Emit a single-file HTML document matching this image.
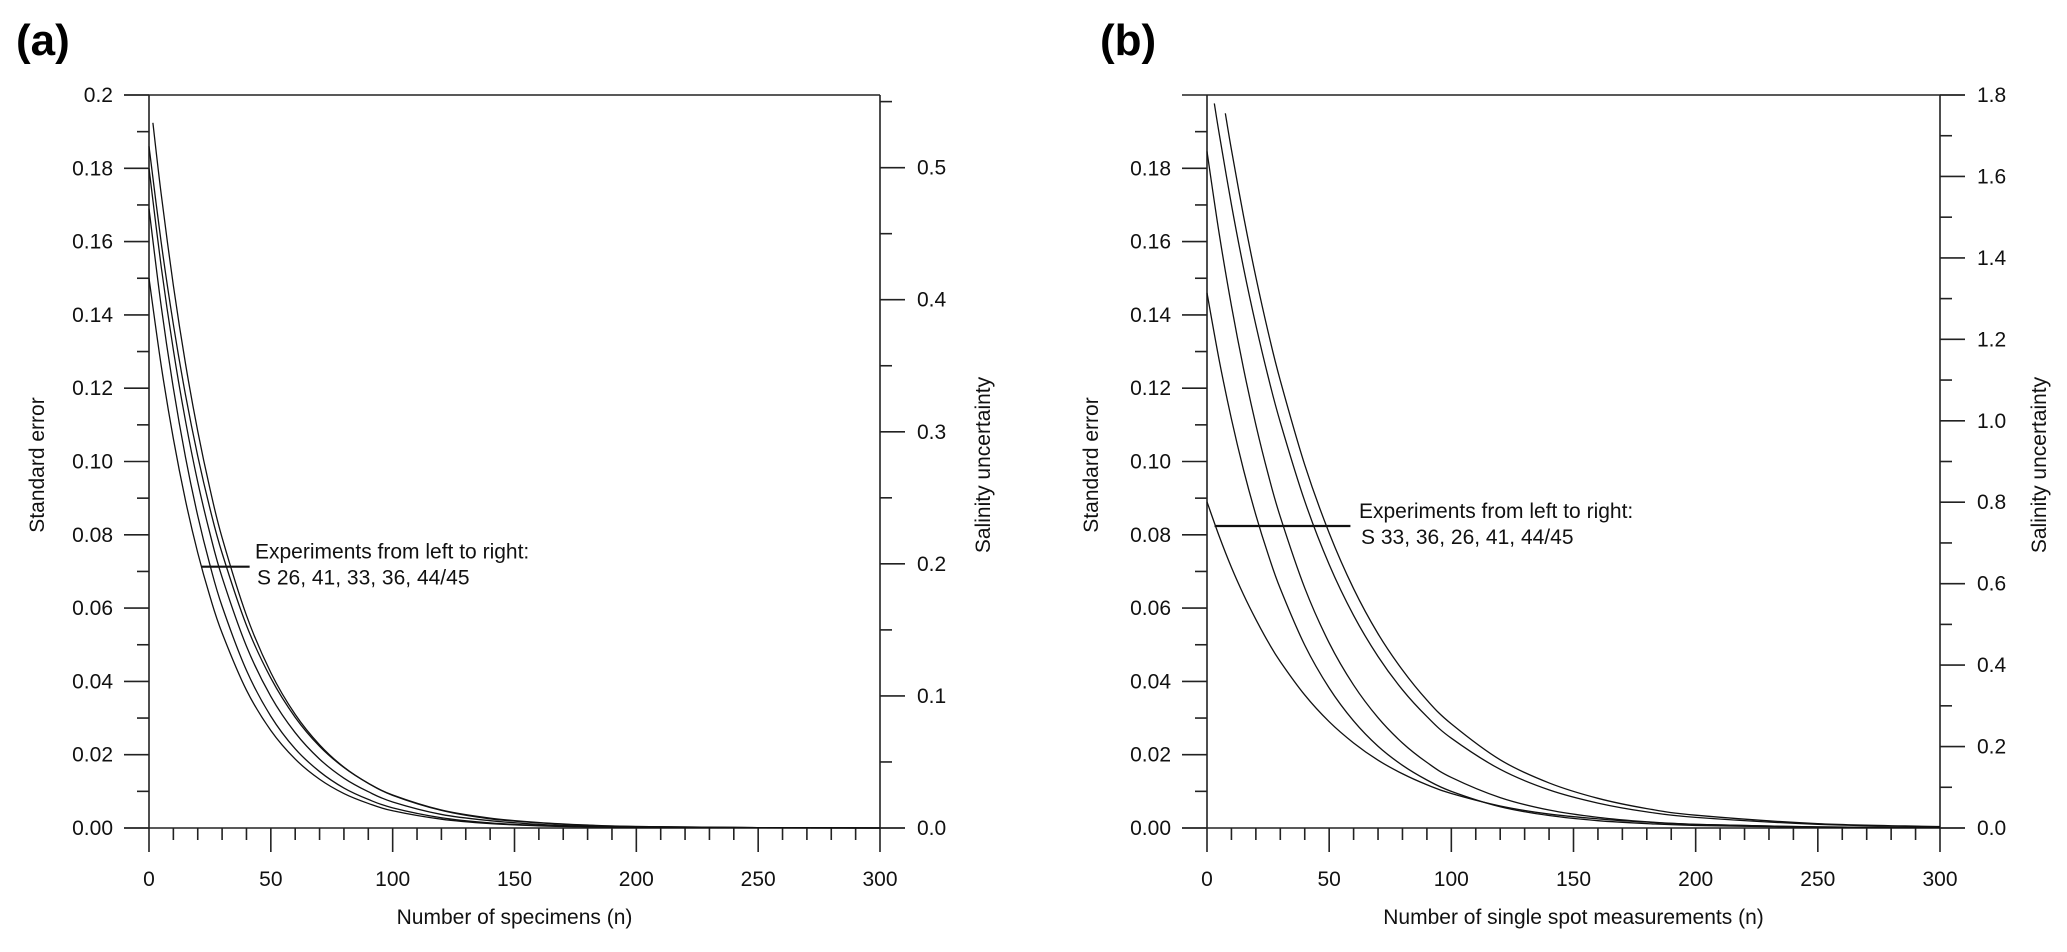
<!DOCTYPE html>
<html><head><meta charset="utf-8"><style>
html,body{margin:0;padding:0;background:#fff;}
svg{display:block;font-family:"Liberation Sans",Arial,sans-serif;}
</style></head><body>
<svg id="fig" width="2067" height="952" viewBox="0 0 2067 952" xmlns="http://www.w3.org/2000/svg">
<text x="16" y="55" font-size="44" font-weight="bold">(a)</text>
<text x="1100" y="55" font-size="44" font-weight="bold">(b)</text>
<g id="pa"></g>
<g id="pb"></g>
</svg>
<script>
// Panel (a) data: standard error vs number of specimens
const aN_S26 = [0,5,10,15,20,25,30,40,50,60,70,80,90,100,120,140,160,180,200,250,300];
const aY_S26 = [0.150,0.1262,0.1062,0.0893,0.0751,0.0632,0.0532,0.0376,0.0266,0.0188,0.0133,0.0094,0.0067,0.0047,0.0024,0.0012,0.0006,0.0003,0.0001,0.00003,0];
const aN_S41 = [0,5,10,15,20,25,30,40,50,60,70,80,90,100,120,140,160,180,200,250,300];
const aY_S41 = [0.169,0.1424,0.1200,0.1011,0.0852,0.0718,0.0605,0.0430,0.0305,0.0216,0.0154,0.0109,0.0078,0.0055,0.0028,0.0014,0.0007,0.0004,0.0002,0.0001,0];
const aN_S33 = [0,5,10,15,20,25,30,40,50,60,70,80,90,100,120,140,160,180,200,250,300];
const aY_S33 = [0.180,0.1532,0.1304,0.1110,0.0944,0.0804,0.0684,0.0496,0.0359,0.0260,0.0188,0.0136,0.0099,0.0071,0.0037,0.0020,0.0010,0.0005,0.0003,0.0001,0];
const aN_S36 = [0,5,10,15,20,25,30,40,50,60,70,80,90,100,120,140,160,180,200,250,300];
const aY_S36 = [0.186,0.1598,0.1374,0.1181,0.1015,0.0872,0.0750,0.0553,0.0409,0.0302,0.0223,0.0165,0.0122,0.0090,0.0049,0.0027,0.0015,0.0008,0.0004,0.0001,0];
const aN_S44 = [1.6,5,10,15,20,25,30,40,50,60,70,80,90,100,120,140,160,180,200,250,300];
const aY_S44 = [0.1924,0.1730,0.1480,0.1266,0.1083,0.0926,0.0792,0.0580,0.0424,0.0310,0.0227,0.0166,0.0122,0.0089,0.0048,0.0025,0.0014,0.0007,0.0004,0.0001,0];
// Panel (b) data: standard error vs number of single spot measurements
const bN_S33 = [0,5,10,15,20,25,30,40,50,60,70,80,90,100,120,140,160,180,200,250,300];
const bY_S33 = [0.089,0.0796,0.0711,0.0636,0.0569,0.0508,0.0454,0.0363,0.0290,0.0232,0.0185,0.0148,0.0118,0.0094,0.0060,0.0038,0.0025,0.0016,0.0010,0.0003,0.0001];
const bN_S36 = [0,5,10,15,20,25,30,40,50,60,70,80,90,100,120,140,160,180,200,250,300];
const bY_S36 = [0.146,0.1276,0.1116,0.0976,0.0854,0.0747,0.0653,0.0499,0.0382,0.0292,0.0223,0.0171,0.0131,0.0100,0.0058,0.0034,0.0020,0.0012,0.0007,0.0002,0.00005];
const bN_S26 = [0,5,10,15,20,25,30,40,50,60,70,80,90,100,120,140,160,180,200,250,300];
const bY_S26 = [0.1846,0.1621,0.1425,0.1252,0.1100,0.0966,0.0849,0.0655,0.0505,0.0390,0.0301,0.0232,0.0179,0.0138,0.0083,0.0049,0.0029,0.0017,0.0010,0.0003,0.0001];
const bN_S41 = [3,5,10,15,20,25,30,40,50,60,70,80,90,100,120,140,160,180,200,250,300];
const bY_S41 = [0.1977,0.1894,0.1701,0.1527,0.1372,0.1232,0.1107,0.0892,0.0719,0.0580,0.0468,0.0377,0.0304,0.0245,0.0160,0.0104,0.0068,0.0044,0.0029,0.0010,0.0003];
const bN_S44 = [7.5,10,15,20,25,30,40,50,60,70,80,90,100,120,140,160,180,200,250,300];
const bY_S44 = [0.195,0.1851,0.1668,0.1503,0.1354,0.1221,0.0991,0.0805,0.0653,0.0530,0.0431,0.0349,0.0284,0.0186,0.0123,0.0081,0.0053,0.0035,0.0012,0.0004];
const xTickLabels = ["0","50","100","150","200","250","300"];
const aLeftLabels = ["0.00","0.02","0.04","0.06","0.08","0.10","0.12","0.14","0.16","0.18","0.2"];
const aRightLabels = ["0.0","0.1","0.2","0.3","0.4","0.5"];
const bLeftLabels = ["0.00","0.02","0.04","0.06","0.08","0.10","0.12","0.14","0.16","0.18"];
const bRightLabels = ["0.0","0.2","0.4","0.6","0.8","1.0","1.2","1.4","1.6","1.8"];

const NS="http://www.w3.org/2000/svg";
function mk(parent, tag, attrs){const e=document.createElementNS(NS,tag);for(const k in attrs)e.setAttribute(k,attrs[k]);parent.appendChild(e);return e;}

function smoothPath(pts){
  let d="M"+pts[0][0].toFixed(2)+","+pts[0][1].toFixed(2);
  for(let i=0;i<pts.length-1;i++){
    const p0=pts[i-1]||pts[i],p1=pts[i],p2=pts[i+1],p3=pts[i+2]||p2;
    const c1=[p1[0]+(p2[0]-p0[0])/6,p1[1]+(p2[1]-p0[1])/6];
    const c2=[p2[0]-(p3[0]-p1[0])/6,p2[1]-(p3[1]-p1[1])/6];
    d+=" C"+c1[0].toFixed(2)+","+c1[1].toFixed(2)+" "+c2[0].toFixed(2)+","+c2[1].toFixed(2)+" "+p2[0].toFixed(2)+","+p2[1].toFixed(2);
  }
  return d;
}

function panel(g, cfg){
  const X0=cfg.x0, X1=cfg.x1, Y0=828, Y1=95;
  const sx=n=>X0+(n/300)*(X1-X0);
  const sy=v=>Y0-(v/0.2)*(Y0-Y1);
  const sr=v=>Y0-(v/cfg.rMax)*(Y0-Y1);
  const st={stroke:"#222","stroke-width":"1.6",fill:"none"};
  // frame
  let e=mk(g,"line",Object.assign({x1:X0,y1:Y0,x2:X0,y2:Y1},st));
  
  
  e=mk(g,"line",Object.assign({x1:X1,y1:Y0,x2:X1,y2:Y1},st));
  
  
  e=mk(g,"line",Object.assign({x1:X0-25,y1:Y0,x2:X1+25,y2:Y0},st));
  
  
  e=mk(g,"line",Object.assign({x1:cfg.topStart,y1:Y1,x2:cfg.topEnd,y2:Y1},st));
  
  
  // x ticks
  for(let n=0;n<=300;n+=10){
    const maj=n%50===0;
    e=mk(g,"line",Object.assign({x1:sx(n),y1:Y0,x2:sx(n),y2:Y0+(maj?24:12)},st));
    
    
  }
  xTickLabels.forEach((t,i)=>{
    e=mk(g,"text",{x:sx(i*50),y:886,"font-size":"21","text-anchor":"middle",fill:"#111"});e.textContent=t;
    
    
  });
  // left ticks
  for(let k=0;k<=20;k++){
    const maj=k%2===0;
    if(k===20 && cfg.skipTopLeftTick) continue;
    e=mk(g,"line",Object.assign({x1:X0,y1:sy(k*0.01),x2:X0-(maj?25:12),y2:sy(k*0.01)},st));
    
    
  }
  cfg.leftLabels.forEach((t,i)=>{
    e=mk(g,"text",{x:X0-36,y:sy(i*0.02)+7,"font-size":"21","text-anchor":"end",fill:"#111"});e.textContent=t;
    
    
  });
  // right ticks
  const nMinor=Math.round(cfg.rMaxTick/cfg.rMinor);
  for(let k=0;k<=nMinor;k++){
    const v=k*cfg.rMinor;const maj=k%2===0;
    e=mk(g,"line",Object.assign({x1:X1,y1:sr(v),x2:X1+(maj?25:12),y2:sr(v)},st));
    
    
  }
  cfg.rightLabels.forEach((t,i)=>{
    e=mk(g,"text",{x:X1+37,y:sr(i*cfg.rMinor*2)+7,"font-size":"21",fill:"#111"});e.textContent=t;
    
    
  });
  // titles
  e=mk(g,"text",{x:(X0+X1)/2,y:924,"font-size":"21","text-anchor":"middle",fill:"#111"});e.textContent=cfg.xTitle;
  
  
  e=mk(g,"text",{x:0,y:0,"font-size":"21","text-anchor":"middle",fill:"#111",transform:"translate("+(cfg.lTitleX)+",465) rotate(-90)"});e.textContent="Standard error";
  
  
  e=mk(g,"text",{x:0,y:0,"font-size":"21","text-anchor":"middle",fill:"#111",transform:"translate("+(cfg.rTitleX)+",465) rotate(-90)"});e.textContent="Salinity uncertainty";
  
  
  // series
  cfg.series.forEach(s=>{
    const pts=s.n.map((n,i)=>[sx(n),sy(s.y[i])]);
    e=mk(g,"path",{d:smoothPath(pts),stroke:"#111","stroke-width":"1.3",fill:"none"});
    
    
  });
  // annotation
  e=mk(g,"line",{x1:sx(cfg.ann[0]),y1:sy(cfg.ann[2]),x2:sx(cfg.ann[1]),y2:sy(cfg.ann[2]),stroke:"#111","stroke-width":"2.2"});
  
  
  e=mk(g,"text",{x:cfg.annX,y:sy(cfg.ann[2])-8,"font-size":"21",fill:"#111"});e.textContent="Experiments from left to right:";
  
  
  e=mk(g,"text",{x:cfg.annX+2,y:sy(cfg.ann[2])+18,"font-size":"21",fill:"#111"});e.textContent=cfg.annText;
  
  
}

panel(document.getElementById("pa"),{
  x0:149,x1:880,topStart:124,topEnd:880,skipTopLeftTick:false,
  leftLabels:aLeftLabels,rightLabels:aRightLabels,rMax:0.555,rMinor:0.05,rMaxTick:0.55,
  xTitle:"Number of specimens (n)",lTitleX:44,rTitleX:990,
  series:[{name:"curve-s26",n:aN_S26,y:aY_S26},{name:"curve-s41",n:aN_S41,y:aY_S41},{name:"curve-s33",n:aN_S33,y:aY_S33},{name:"curve-s36",n:aN_S36,y:aY_S36},{name:"curve-s44-45",n:aN_S44,y:aY_S44}],
  ann:[21.5,41.3,0.0713],annX:255,annText:"S 26, 41, 33, 36, 44/45"
});
panel(document.getElementById("pb"),{
  x0:1207,x1:1940,topStart:1182,topEnd:1965,skipTopLeftTick:true,
  leftLabels:bLeftLabels,rightLabels:bRightLabels,rMax:1.8,rMinor:0.1,rMaxTick:1.8,
  xTitle:"Number of single spot measurements (n)",lTitleX:1098,rTitleX:2046,
  series:[{name:"curve-s33",n:bN_S33,y:bY_S33},{name:"curve-s36",n:bN_S36,y:bY_S36},{name:"curve-s26",n:bN_S26,y:bY_S26},{name:"curve-s41",n:bN_S41,y:bY_S41},{name:"curve-s44-45",n:bN_S44,y:bY_S44}],
  ann:[3.1,58.7,0.0824],annX:1359,annText:"S 33, 36, 26, 41, 44/45"
});
</script>
</body></html>
